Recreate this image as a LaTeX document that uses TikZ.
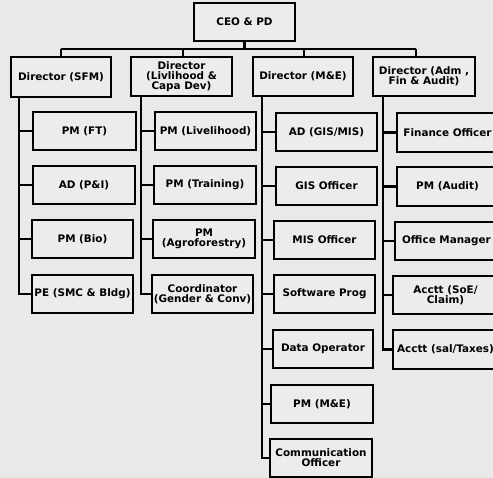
\documentclass[tikz,border=0pt]{standalone}
\usepackage{fontspec}
\setmainfont{DejaVu Sans}
\definecolor{bgc}{RGB}{233,233,233}
\definecolor{boxc}{RGB}{236,236,236}
\tikzset{
  box/.style={draw=black, line width=2.8pt, fill=boxc, inner sep=0pt, align=center,
              font=\bfseries\fontsize{10.4}{9.8}\selectfont},
  conn/.style={draw=black, line width=2.8pt}
}
\newcommand\bx[6]{%
  \pgfmathsetmacro\mybw{#4-#2}\pgfmathsetmacro\mybh{#5-#3}%
  \pgfmathsetmacro\mycx{(#2+#4)/2}\pgfmathsetmacro\mycy{(#3+#5)/2}%
  \node[box, minimum width=\mybw pt, minimum height=\mybh pt] (#1) at (\mycx,\mycy) {#6};}
\begin{document}
\begin{tikzpicture}[x=1pt,y=-1pt]
\fill[bgc] (0,0) rectangle (493,478);
\useasboundingbox (0,0) rectangle (493,478);
% nodes
\bx{ceo}{194}{3}{295}{41}{CEO \& PD}
\bx{d1}{11}{57}{111}{97}{Director (SFM)}
\bx{d2}{131}{57}{232}{96}{Director\\(Livlihood \&\\Capa Dev)}
\bx{d3}{253}{57}{353}{96}{Director (M\&E)}
\bx{d4}{373}{57}{475}{96}{Director (Adm ,\\Fin \& Audit)}
% column 1
\bx{ft}{33}{112}{136}{150}{PM (FT)}
\bx{pi}{33}{166}{135}{204}{AD (P\&I)}
\bx{bio}{32}{220}{133}{258}{PM (Bio)}
\bx{pe}{32}{275}{133}{313}{PE (SMC \& Bldg)}
% column 2
\bx{liv}{155}{112}{256}{150}{PM (Livelihood)}
\bx{tr}{154}{166}{256}{204}{PM (Training)}
\bx{agro}{153}{220}{255}{258}{PM\\(Agroforestry)}
\bx{coord}{152}{275}{253}{313}{Coordinator\\(Gender \& Conv)}
% column 3
\bx{gismis}{276}{113}{377}{151}{AD (GIS/MIS)}
\bx{gis}{276}{167}{377}{205}{GIS Officer}
\bx{mis}{274}{221}{375}{259}{MIS Officer}
\bx{sw}{274}{275}{375}{313}{Software Prog}
\bx{data}{273}{330}{373}{368}{Data Operator}
\bx{pme}{271}{385}{373}{423}{PM (M\&E)}
\bx{comm}{270}{439}{372}{477}{Communication\\Officer}
% column 4
\bx{fin}{397}{113}{498}{152}{Finance Officer}
\bx{aud}{397}{167}{498}{206}{PM (Audit)}
\bx{off}{395}{222}{498}{260}{Office Manager}
\bx{soe}{393}{276}{498}{314}{Acctt (SoE/\\Claim)}
\bx{sal}{393}{330}{498}{369}{Acctt (sal/Taxes)}
% top connectors
\coordinate (b1) at (61,49);
\coordinate (b2) at (183,49);
\coordinate (b3) at (304,49);
\coordinate (b4) at (416,49);
\draw[conn] (b1) -- (b4);
\draw[conn] (ceo.south) -- (ceo.south |- b1);
\draw[conn] (b1) -- (b1 |- d1.north);
\draw[conn] (b2) -- (b2 |- d2.north);
\draw[conn] (b3) -- (b3 |- d3.north);
\draw[conn] (b4) -- (b4 |- d4.north);
% spines
\coordinate (s1) at (19,97);
\coordinate (s2) at (141,96);
\coordinate (s3) at (262,96);
\coordinate (s4) at (383,96);
\draw[conn] (s1) |- (pe.west);
\foreach \n in {ft,pi,bio} \draw[conn] (s1 |- \n.west) -- (\n.west);
\draw[conn] (s2) |- (coord.west);
\foreach \n in {liv,tr,agro} \draw[conn] (s2 |- \n.west) -- (\n.west);
\draw[conn] (s3) |- (comm.west);
\foreach \n in {gismis,gis,mis,sw,data,pme} \draw[conn] (s3 |- \n.west) -- (\n.west);
\draw[conn] (s4) |- (sal.west);
\foreach \n in {fin,aud,off,soe} \draw[conn] (s4 |- \n.west) -- (\n.west);
\end{tikzpicture}
\end{document}
